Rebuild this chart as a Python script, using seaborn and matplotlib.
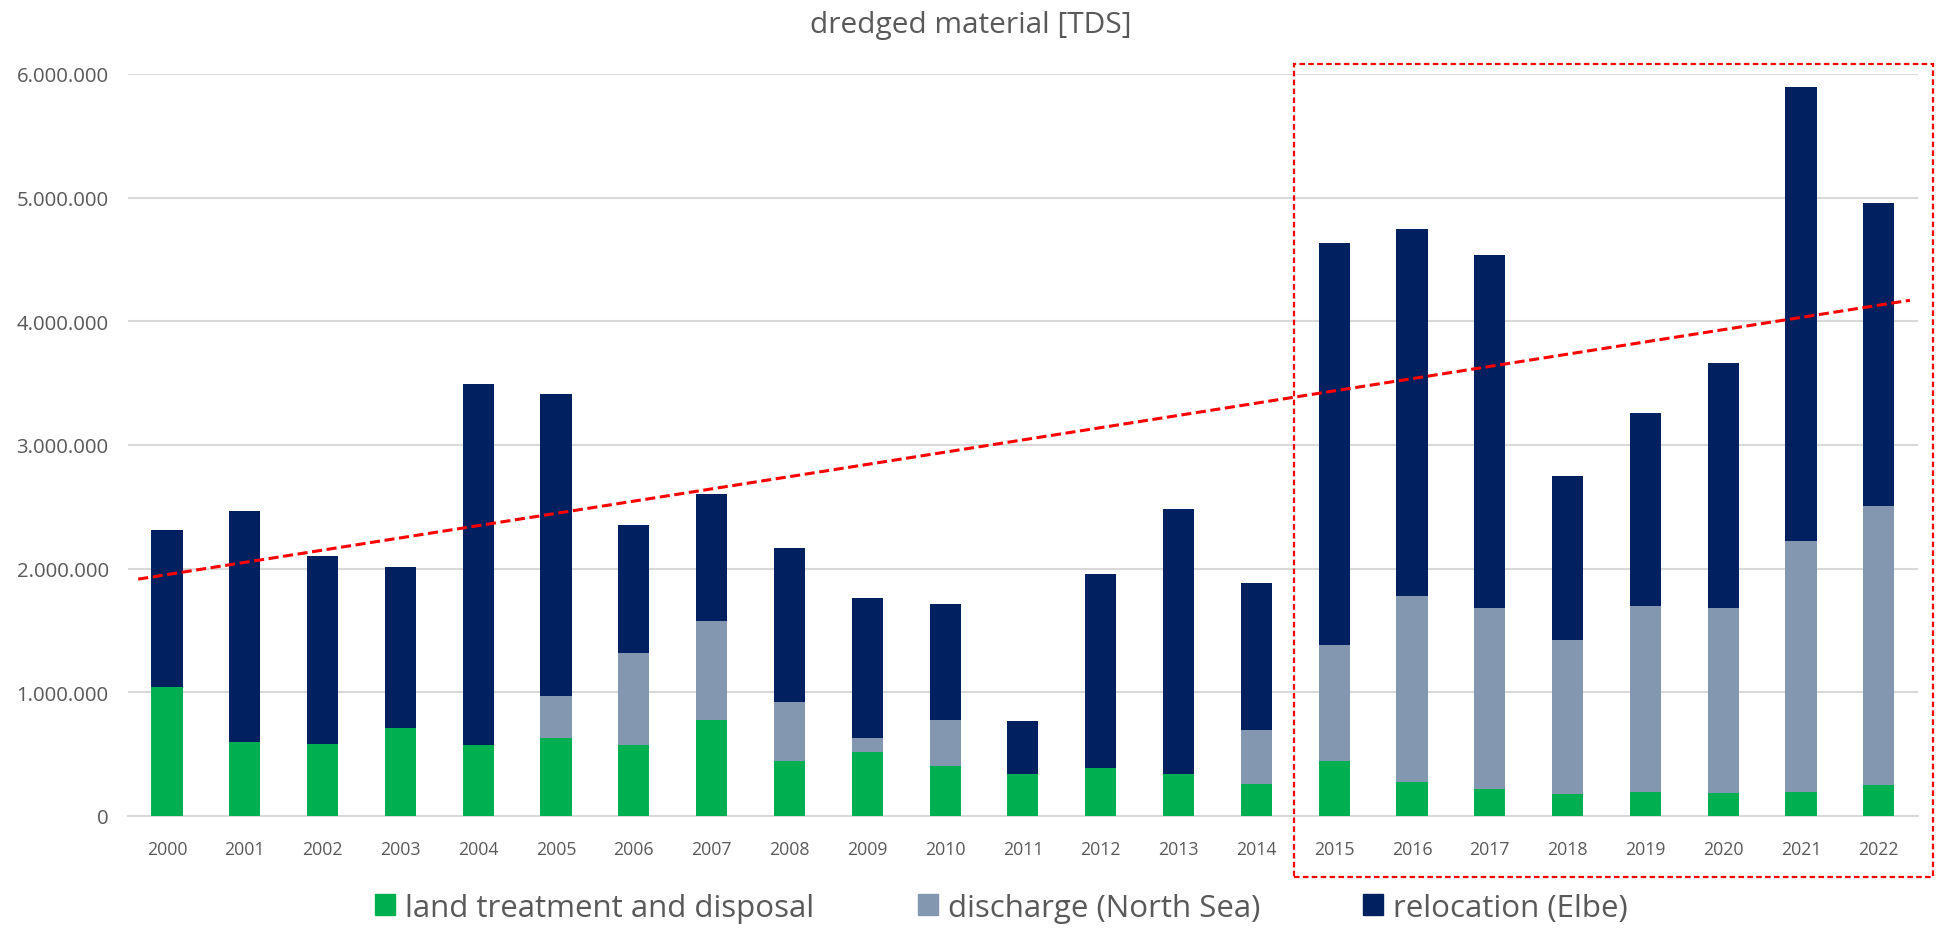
import numpy as np
import pandas as pd
import seaborn as sns
import matplotlib.pyplot as plt
from matplotlib.patches import Rectangle

GREEN = '#00B050'
GREY = '#8497B0'
NAVY = '#002060'
RED = '#FF0000'
TEXT = '#595959'

years = [str(y) for y in range(2000, 2023)]

land = [1045000, 600000, 585000, 710000, 570000, 633000, 570000, 777000,
        446000, 518000, 400000, 336000, 384000, 336000, 260000, 446000,
        278000, 220000, 177000, 197000, 187000, 197000, 250000]
discharge = [0, 0, 0, 0, 0, 337000, 750000, 803000, 474000, 115000, 377000,
             0, 0, 0, 435000, 934000, 1497000, 1460000, 1248000, 1503000,
             1493000, 2023000, 2255000]
relocation = [1265000, 1870000, 1520000, 1300000, 2920000, 2445000, 1035000,
              1020000, 1250000, 1132000, 933000, 431000, 1576000, 2144000,
              1185000, 3250000, 2975000, 2860000, 1325000, 1560000, 1980000,
              3675000, 2450000]

# trend line (start/end in category index and value)
trend_x = [-0.37, 22.4]
trend_y = [1915000, 4170000]

df = pd.DataFrame({'year': years, 'land': land,
                   'discharge': discharge, 'relocation': relocation})
df['lower'] = df['land'] + df['discharge']
df['total'] = df['lower'] + df['relocation']

sns.set_theme(style='white')
plt.rcParams['font.family'] = ['Open Sans', 'DejaVu Sans']

fig = plt.figure(figsize=(19.41, 9.29), dpi=100)
ax = fig.add_axes([0.066, 0.1206, 0.922, 0.7987])

# stacked bars drawn as overlapping cumulative totals
for col, c in [('total', NAVY), ('lower', GREY), ('land', GREEN)]:
    sns.barplot(data=df, x='year', y=col, color=c, width=0.4,
                saturation=1, linewidth=0, ax=ax, zorder=3)

ax.set_xlim(-0.5, len(years) - 0.5)
ax.set_ylim(0, 6000000)
ax.set_yticks(np.arange(0, 6000001, 1000000))
ax.set_yticklabels([f'{int(v):,}'.replace(',', '.') for v in ax.get_yticks()])
ax.set_xlabel('')
ax.set_ylabel('')
ax.tick_params(axis='x', labelsize=12.8, colors=TEXT, length=0, pad=17)
ax.tick_params(axis='y', labelsize=14.7, colors=TEXT, length=0, pad=14)

ax.grid(axis='y', color='#D9D9D9', linewidth=1.5, zorder=0)
ax.set_axisbelow(True)
for s in ['top', 'right', 'left']:
    ax.spines[s].set_visible(False)
ax.spines['bottom'].set_color('#D9D9D9')
ax.spines['bottom'].set_linewidth(1.5)

# trend arrow
ax.plot(trend_x, trend_y, linestyle=(0, (3.3, 1.5)), color=RED, linewidth=2.2,
        zorder=4)
slope = (trend_y[1] - trend_y[0]) / (trend_x[1] - trend_x[0])
ax.annotate('', xy=(trend_x[1] + 0.12, trend_y[1] + slope * 0.12),
            xytext=(trend_x[1] - 0.1, trend_y[1] - slope * 0.1),
            arrowprops=dict(arrowstyle='-|>,head_length=0.55,head_width=0.3',
                            color=RED, lw=2, mutation_scale=22), zorder=5)

# highlight box 2015-2022
box = Rectangle((14.48, -493000), 8.22, 6573000, fill=False, edgecolor=RED,
                linestyle=(0, (2.5, 1.5)), linewidth=1.6, clip_on=False,
                zorder=5)
ax.add_patch(box)

fig.text(0.5, 0.973, 'dredged material [TDS]', ha='center', va='center',
         fontsize=21.5, color=TEXT)

handles = [Rectangle((0, 0), 1, 1, color=c) for c in (GREEN, GREY, NAVY)]
labels = ['land treatment and disposal', 'discharge (North Sea)',
          'relocation (Elbe)']
fig.legend(handles, labels, loc='center', bbox_to_anchor=(0.516, 0.022),
           ncol=3, frameon=False, fontsize=22.5, labelcolor=TEXT,
           handlelength=0.64, handleheight=0.64, handletextpad=0.32,
           columnspacing=3.3, borderpad=0)

fig.savefig('out.png', dpi=100)
